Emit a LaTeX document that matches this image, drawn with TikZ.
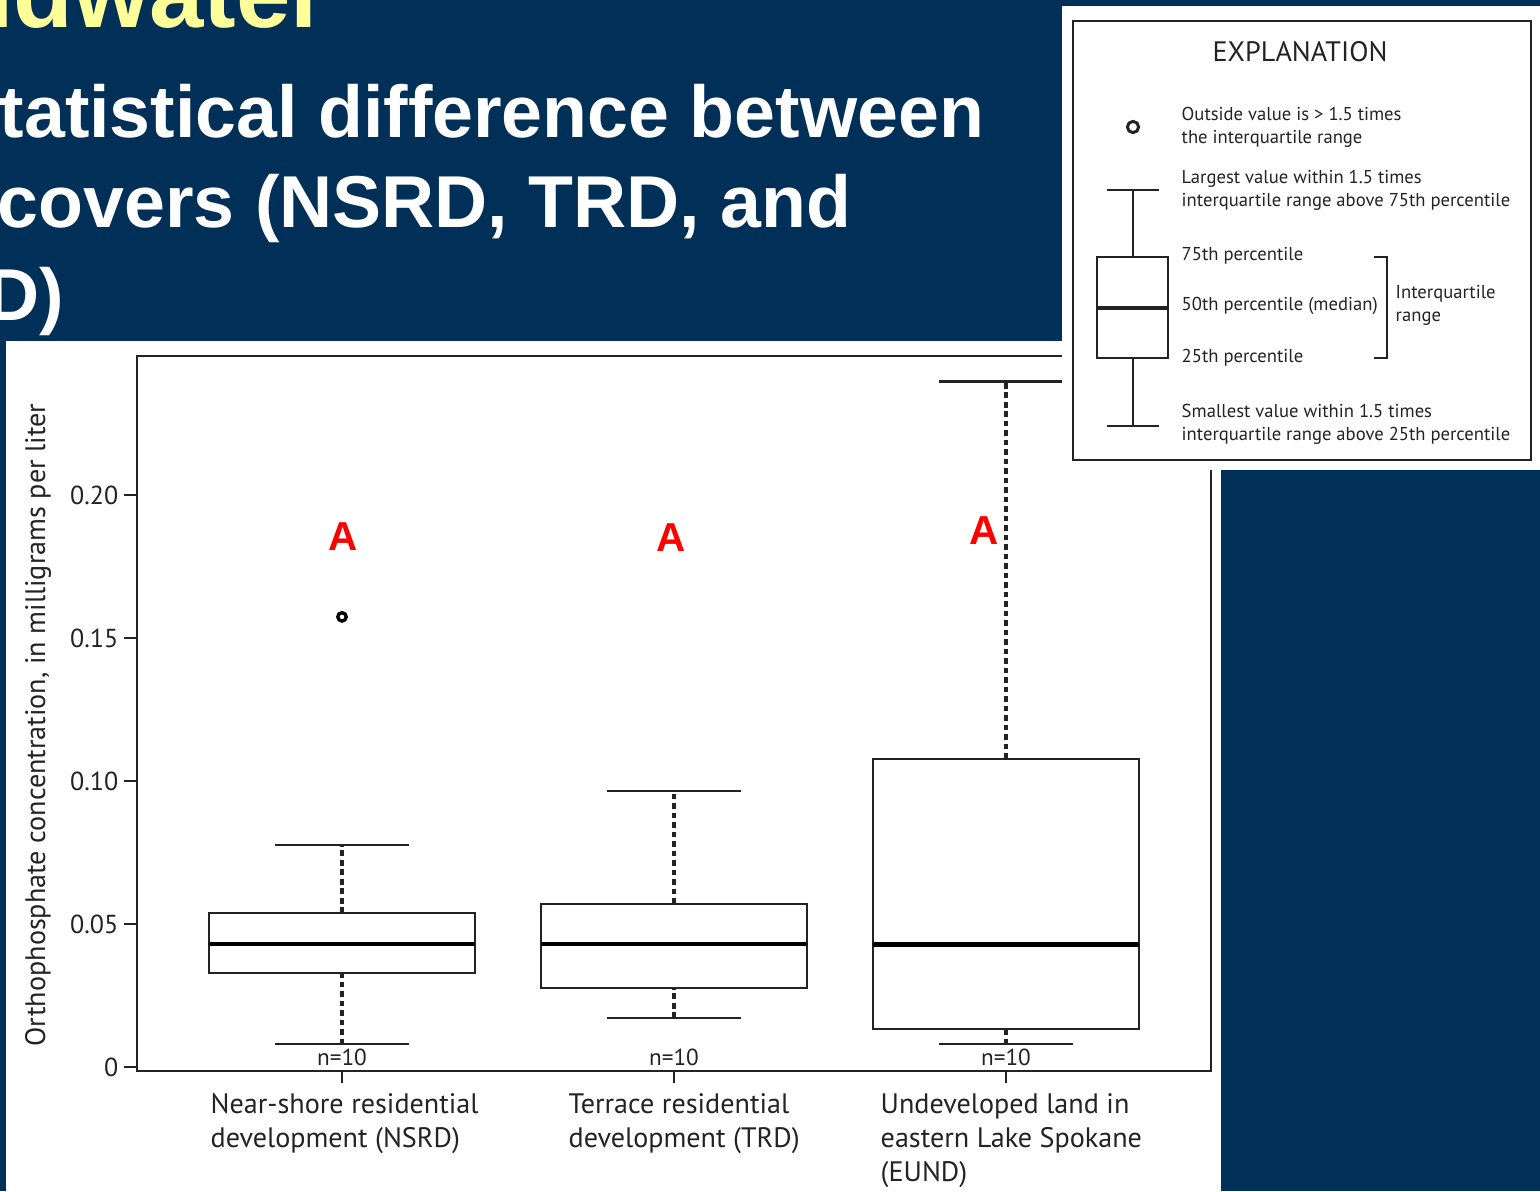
\documentclass[tikz,border=0pt]{standalone}
\usepackage{fontspec}
\setmainfont{PT Sans}
\newfontfamily\slidefont{Liberation Sans}
\definecolor{slideblue}{RGB}{0,48,87}
\definecolor{slideyellow}{RGB}{255,255,153}
\definecolor{inkgray}{RGB}{35,35,35}

\begin{document}
\begin{tikzpicture}[x=0.01cm, y=-0.01cm,
    title/.style={font=\slidefont\bfseries\fontsize{20.9}{25}\selectfont, text=white, anchor=base west, inner sep=0pt},
    grade/.style={font=\slidefont\bfseries\fontsize{11.5}{13}\selectfont, text=red, inner sep=0pt},
    ticklbl/.style={font=\fontsize{7.4}{8}\selectfont, text=inkgray, anchor=east, inner sep=0pt},
    catlbl/.style={font=\fontsize{8}{9.7}\selectfont, text=inkgray, align=left, anchor=north west, inner sep=0pt},
    keylbl/.style={font=\fontsize{5.3}{6.5}\selectfont, text=inkgray, align=left, anchor=west, inner sep=0pt},
    frame/.style={line width=0.7pt, inkgray},
    whisk/.style={line width=0.95pt, inkgray, dash pattern=on 1.6pt off 1.1pt},
    med/.style={line width=1.4pt}]
    \useasboundingbox (0,0) rectangle (1540,1191);
    \fill[slideblue] (0,0) rectangle (1540,1191);

    % slide title, cut at the left edge
    \begin{scope}
      \clip (0,0) rectangle (1540,1191);
      \node[title, text=slideyellow, font=\slidefont\bfseries\fontsize{27.8}{30}\selectfont] (head) at (-47,28) {ndwater};
      \node[title] (line1) at (-1,137) {tatistical difference between};
      \node[title] (line2) at (-3,228) {covers (NSRD, TRD, and};
      \node[title] (line3) at (-14,320) {D)};
    \end{scope}

    % the box plot
    \fill[white] (6,341) rectangle (1221,1191);
    \draw[frame] (137,356) rectangle (1211,1071);

    \foreach \v/\t [count=\i] in {0/0, 0.05/0.05, 0.10/0.10, 0.15/0.15, 0.20/0.20} {
      \pgfmathsetmacro{\yy}{1067-2860*\v}
      \draw[frame] (124,\yy) -- (137,\yy);
      \node[ticklbl] (tick\i) at (119,\yy) {\t};
    }
    \node[font=\fontsize{8}{9}\selectfont, text=inkgray, rotate=90, inner sep=0pt] (ylabel) at (38,725)
      {Orthophosphate concentration, in milligrams per liter};

    \begin{scope}[shift={(0,1067)}, y=28.6cm]
      \foreach \cx/\lo/\qa/\md/\qb/\hi [count=\i] in
          {342/0.0080/0.0329/0.0430/0.0538/0.0776,
           674/0.0171/0.0276/0.0430/0.0570/0.0965,
           1006/0.0080/0.0133/0.0427/0.1077/0.2395} {
        \draw[whisk] (\cx,\lo) -- (\cx,\qa);
        \draw[whisk] (\cx,\qb) -- (\cx,\hi);
        \draw[frame] (\cx-67,\lo) -- (\cx+67,\lo);
        \draw[frame] (\cx-67,\hi) -- (\cx+67,\hi);
        \draw[frame, fill=white] (\cx-133,\qa) rectangle (\cx+133,\qb);
        \draw[med] (\cx-133,\md) -- (\cx+133,\md);
        \node[font=\fontsize{6.6}{7}\selectfont, text=inkgray, inner sep=0pt] (n\i) at (\cx,0.0032) {n=10};
      }
      \draw[line width=0.95pt] (342,0.1573) circle[radius=1.2pt];
    \end{scope}

    \foreach \cx in {342,674,1006}
      \draw[frame] (\cx,1071) -- (\cx,1083);

    \node[catlbl] (nsrd) at (210,1093) {Near-shore residential\\development (NSRD)};
    \node[catlbl] (trd) at (568,1093) {Terrace residential\\development (TRD)};
    \node[catlbl] (eund) at (880,1093) {Undeveloped land in\\eastern Lake Spokane\\(EUND)};

    \node[grade] (gradeA) at (343,537) {A};
    \node[grade] (gradeB) at (671,538) {A};
    \node[grade] (gradeC) at (984,531) {A};

    % explanation panel
    \fill[white] (1062,6) rectangle (1540,470);
    \draw[line width=0.75pt, inkgray] (1073,21) rectangle (1531,460);
    \node[font=\fontsize{8}{9}\selectfont, text=inkgray, inner sep=0pt] (expl) at (1300,52) {EXPLANATION};

    \draw[line width=0.85pt, inkgray] (1133,127) circle[radius=1.6pt];
    \draw[frame] (1107,190) -- (1159,190);
    \draw[frame] (1133,190) -- (1133,257);
    \draw[frame] (1097,257) rectangle (1168,358);
    \draw[med, inkgray] (1097,308) -- (1168,308);
    \draw[frame] (1133,358) -- (1133,426);
    \draw[frame] (1107,426) -- (1159,426);
    \draw[frame] (1374,257) -- (1387,257) -- (1387,358) -- (1374,358);

    \node[keylbl] (kout) at (1181,127) {Outside value is > 1.5 times\\the interquartile range};
    \node[keylbl] (khi) at (1181,190) {Largest value within 1.5 times\\interquartile range above 75th percentile};
    \node[keylbl] (kq3) at (1181,256) {75th percentile};
    \node[keylbl] (kmed) at (1181,306) {50th percentile (median)};
    \node[keylbl] (kq1) at (1181,358) {25th percentile};
    \node[keylbl] (kiqr) at (1395,305) {Interquartile\\range};
    \node[keylbl] (klo) at (1181,424) {Smallest value within 1.5 times\\interquartile range above 25th percentile};
\end{tikzpicture}
\end{document}
